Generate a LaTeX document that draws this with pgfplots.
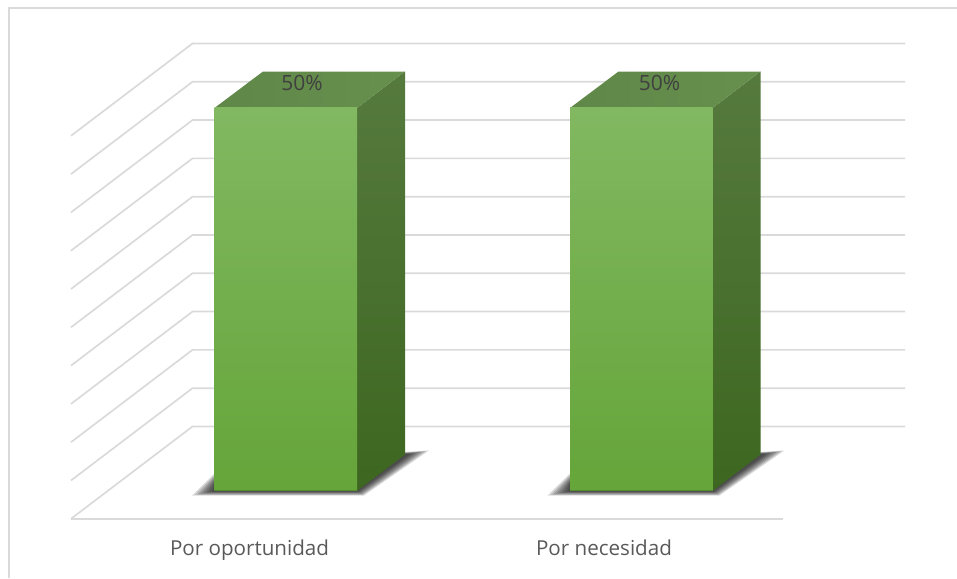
\documentclass[border=0pt]{standalone}
\usepackage{fontspec}
\setmainfont{Open Sans}
\usepackage{pgfplots}
\pgfplotsset{compat=1.18}
\definecolor{gridc}{HTML}{DADADA}
\definecolor{ftop}{RGB}{129,184,97}
\definecolor{fmid}{RGB}{112,177,70}
\definecolor{fbot}{RGB}{101,165,57}
\definecolor{stop}{RGB}{86,122,62}
\definecolor{sbot}{RGB}{61,103,32}
\definecolor{tl}{RGB}{95,135,72}
\definecolor{tr}{RGB}{103,143,77}
\pgfplotsset{
  g/.style={draw=gridc,line width=1.7pt,no marks,line join=miter},
  sh/.style={draw=none,fill=black,fill opacity=0.14,no marks},
}
\begin{document}
\begin{tikzpicture}
\useasboundingbox (0,0) rectangle (957pt,578pt);
\begin{axis}[
  at={(0,0)},anchor=south west,
  scale only axis,width=957pt,height=578pt,
  xmin=0,xmax=957,ymin=-11.36,ymax=64.1,
  hide axis,clip=false,
]
% chart frame
\addplot[g,line width=1.8pt] coordinates {(9,-11.36)(9,63.05)(957,63.05)};
% walls: side wall, then back wall, 5% apart
\addplot[g] coordinates {(71,-3.63)(192.5,8.42)(905,8.42)};
\addplot[g] coordinates {(71,1.37)(192.5,13.42)(905,13.42)};
\addplot[g] coordinates {(71,6.37)(192.5,18.42)(905,18.42)};
\addplot[g] coordinates {(71,11.37)(192.5,23.42)(905,23.42)};
\addplot[g] coordinates {(71,16.37)(192.5,28.42)(905,28.42)};
\addplot[g] coordinates {(71,21.37)(192.5,33.42)(905,33.42)};
\addplot[g] coordinates {(71,26.37)(192.5,38.42)(905,38.42)};
\addplot[g] coordinates {(71,31.37)(192.5,43.42)(905,43.42)};
\addplot[g] coordinates {(71,36.37)(192.5,48.42)(905,48.42)};
\addplot[g] coordinates {(71,41.37)(192.5,53.42)(905,53.42)};
\addplot[g] coordinates {(71,46.37)(192.5,58.42)(905,58.42)};
\addplot[g] coordinates {(71,-3.63)(783,-3.63)};
% shadow, first bar
\addplot[sh] coordinates {(192.0,-0.59)(214,2.22)(357,2.22)(405,5.09)(429.0,5.29)(364.0,-0.59)(192.0,-0.59)};
\addplot[sh] coordinates {(194.9,-0.51)(214,2.03)(357,2.03)(405,5.05)(426.3,5.22)(363.1,-0.51)(194.9,-0.51)};
\addplot[sh] coordinates {(197.7,-0.44)(214,1.85)(357,1.85)(405,5.01)(423.6,5.16)(362.3,-0.44)(197.7,-0.44)};
\addplot[sh] coordinates {(200.6,-0.36)(214,1.66)(357,1.66)(405,4.97)(420.9,5.09)(361.4,-0.36)(200.6,-0.36)};
\addplot[sh] coordinates {(203.4,-0.29)(214,1.47)(357,1.47)(405,4.94)(418.1,5.03)(360.6,-0.29)(203.4,-0.29)};
\addplot[sh] coordinates {(206.3,-0.21)(214,1.29)(357,1.29)(405,4.90)(415.4,4.96)(359.7,-0.21)(206.3,-0.21)};
\addplot[sh] coordinates {(209.1,-0.14)(214,1.10)(357,1.10)(405,4.86)(412.7,4.89)(358.9,-0.14)(209.1,-0.14)};
\addplot[sh] coordinates {(212.0,-0.07)(214,0.91)(357,0.91)(405,4.83)(410.0,4.83)(358.0,-0.07)(212.0,-0.07)};
% shadow, second bar
\addplot[sh] coordinates {(547.5,-0.59)(569.5,2.22)(712.5,2.22)(760.5,5.09)(784.5,5.29)(719.5,-0.59)(547.5,-0.59)};
\addplot[sh] coordinates {(550.4,-0.51)(569.5,2.03)(712.5,2.03)(760.5,5.05)(781.8,5.22)(718.6,-0.51)(550.4,-0.51)};
\addplot[sh] coordinates {(553.2,-0.44)(569.5,1.85)(712.5,1.85)(760.5,5.01)(779.1,5.16)(717.8,-0.44)(553.2,-0.44)};
\addplot[sh] coordinates {(556.1,-0.36)(569.5,1.66)(712.5,1.66)(760.5,4.97)(776.4,5.09)(716.9,-0.36)(556.1,-0.36)};
\addplot[sh] coordinates {(558.9,-0.29)(569.5,1.47)(712.5,1.47)(760.5,4.94)(773.6,5.03)(716.1,-0.29)(558.9,-0.29)};
\addplot[sh] coordinates {(561.8,-0.21)(569.5,1.29)(712.5,1.29)(760.5,4.90)(770.9,4.96)(715.2,-0.21)(561.8,-0.21)};
\addplot[sh] coordinates {(564.6,-0.14)(569.5,1.10)(712.5,1.10)(760.5,4.86)(768.2,4.89)(714.4,-0.14)(564.6,-0.14)};
\addplot[sh] coordinates {(567.5,-0.07)(569.5,0.91)(712.5,0.91)(760.5,4.83)(765.5,4.83)(713.5,-0.07)(567.5,-0.07)};
% bar 1: Por oportunidad = 50
\addplot[draw=none,no marks,shading angle=-15,top color=stop,bottom color=sbot] coordinates {(357,0)(405,4.76)(405,54.76)(357,50)(357,0)};
\addplot[draw=none,no marks,left color=tl,right color=tr] coordinates {(214.5,50)(263,54.76)(405,54.76)(357,50)(214.5,50)};
\addplot[draw=none,no marks,top color=ftop,middle color=fmid,bottom color=fbot] coordinates {(214.5,0)(357,0)(357,50)(214.5,50)(214.5,0)};
\addplot[draw={rgb,255:red,86;green,140;blue,48},line width=0.9pt,no marks] coordinates {(214.5,0.05)(357,0.05)};
% bar 2: Por necesidad = 50
\addplot[draw=none,no marks,shading angle=-15,top color=stop,bottom color=sbot] coordinates {(712.5,0)(760.5,4.76)(760.5,54.76)(712.5,50)(712.5,0)};
\addplot[draw=none,no marks,left color=tl,right color=tr] coordinates {(570,50)(618.5,54.76)(760.5,54.76)(712.5,50)(570,50)};
\addplot[draw=none,no marks,top color=ftop,middle color=fmid,bottom color=fbot] coordinates {(570,0)(712.5,0)(712.5,50)(570,50)(570,0)};
\addplot[draw={rgb,255:red,86;green,140;blue,48},line width=0.9pt,no marks] coordinates {(570,0.05)(712.5,0.05)};
% labels
\node[anchor=base,text=black!75,font=\fontsize{21}{24}\selectfont] at (axis cs:302,52.26) {50\%};
\node[anchor=base,text=black!75,font=\fontsize{21}{24}\selectfont] at (axis cs:659.5,52.26) {50\%};
\node[anchor=base,text=black!65,font=\fontsize{20.6}{24}\selectfont] at (axis cs:249.5,-8.45) {Por oportunidad};
\node[anchor=base,text=black!65,font=\fontsize{20.6}{24}\selectfont] at (axis cs:604,-8.45) {Por necesidad};
\end{axis}
\end{tikzpicture}
\end{document}
